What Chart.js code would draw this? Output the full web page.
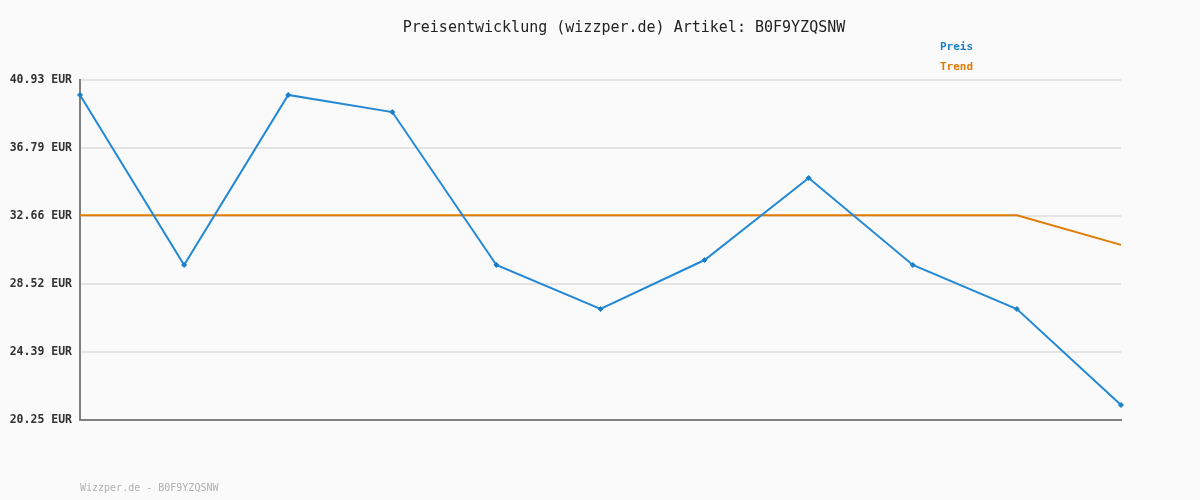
<!DOCTYPE html>
<html>
<head>
<meta charset="utf-8">
<script src="https://cdn.jsdelivr.net/npm/chart.js@4/dist/chart.umd.min.js"></script>
<style>
  html, body { margin: 0; padding: 0; background: #fafafa; }
  #wrap { width: 1200px; height: 500px; position: relative; }
</style>
</head>
<body>
<div id="wrap"><canvas id="price_chart"></canvas></div>
<script>
var chartLabels = ["1", "2", "3", "4", "5", "6", "7", "8", "9", "10", "11"];
var priceValues = [40.02, 29.68, 40.02, 38.98, 29.68, 27.0, 29.98, 34.97, 29.68, 27.0, 21.16];
var trendValues = [32.7, 32.7, 32.7, 32.7, 32.7, 32.7, 32.7, 32.7, 32.7, 32.7, 30.9];
var yTicks = [20.25, 24.39, 28.52, 32.66, 36.79, 40.93];

var chartTitle = "Preisentwicklung (wizzper.de) Artikel: B0F9YZQSNW";
var footerText = "Wizzper.de - B0F9YZQSNW";

var mono = "'DejaVu Sans Mono', monospace";

// title, legend and footer drawn by hand
var decoPlugin = {
  id: "deco",
  afterDraw: function (chart) {
    var c = chart.ctx;
    c.save();
    c.textBaseline = "middle";
    c.textAlign = "center";
    c.fillStyle = "#222";
    c.font = "15px " + mono;
    c.fillText(chartTitle, 624, 28);

    c.textAlign = "left";
    c.font = "bold 11px " + mono;
    c.fillStyle = "#1a7fc4";
    c.fillText("Preis", 940, 47);
    c.fillStyle = "#e07b00";
    c.fillText("Trend", 940, 67);

    c.font = "10px " + mono;
    c.fillStyle = "#b0b0b0";
    c.fillText(footerText, 80, 488);
    c.restore();
  }
};

var ctx = document.getElementById("price_chart").getContext("2d");
var myChart = new Chart(ctx, {
  type: "line",
  data: {
    labels: chartLabels,
    datasets: [
      {
        label: "Preis",
        data: priceValues,
        borderColor: "#2389d6",
        backgroundColor: "#1a7fc4",
        borderWidth: 2,
        pointStyle: "rectRot",
        pointRadius: 2.5,
        pointBorderWidth: 1,
        pointBorderColor: "#1a7fc4",
        tension: 0,
      },
      {
        label: "Trend",
        data: trendValues,
        borderColor: "#e07b00",
        borderWidth: 2,
        pointRadius: 0,
        tension: 0,
      },
    ],
  },
  options: {
    responsive: true,
    maintainAspectRatio: false,
    animation: false,
    layout: { padding: { left: 0, right: 79, top: 80, bottom: 80 } },
    plugins: {
      legend: { display: false },
      title: { display: false },
      tooltip: { enabled: false },
    },
    scales: {
      x: {
        offset: false,
        ticks: { display: false },
        grid: { display: false, drawTicks: false },
        border: { display: true, color: "#808080", width: 2 },
      },
      y: {
        min: 20.25,
        max: 40.93,
        afterBuildTicks: function (scale) {
          scale.ticks = yTicks.map(function (v) { return { value: v }; });
        },
        afterFit: function (scale) { scale.width = 80; },
        ticks: {
          color: "#333",
          padding: 8,
          font: { family: mono, size: 11.5, weight: "bold" },
          callback: function (v) { return v.toFixed(2) + " EUR"; },
        },
        grid: { color: "#e4e4e4", lineWidth: 2, drawTicks: false },
        border: { display: true, color: "#808080", width: 2 },
      },
    },
  },
  plugins: [decoPlugin],
});
</script>
</body>
</html>
